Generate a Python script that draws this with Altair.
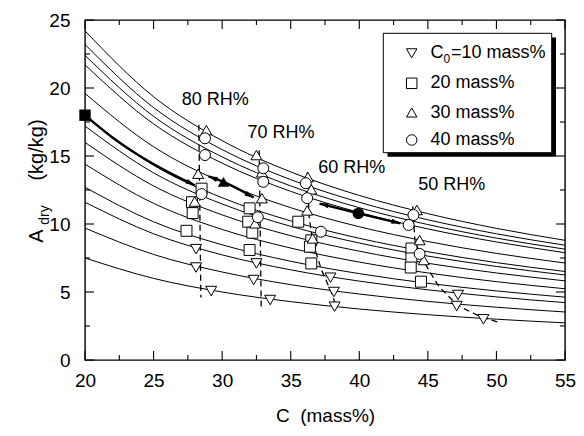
import math
import altair as alt
import pandas as pd

FONT = "Liberation Sans"

# ---------------- data ----------------
x_tick_labels = [20, 25, 30, 35, 40, 45, 50, 55]
y_tick_labels = [0, 5, 10, 15, 20, 25]
x_minor = [22.5, 27.5, 32.5, 37.5, 42.5, 47.5, 52.5]
y_minor = [2.5, 7.5, 12.5, 17.5, 22.5]

# solid curves: A_dry sampled at these C values
curve_C = [20, 25, 30, 35, 40, 45, 50, 55]
curves_A = [
    [24.2, 19.36, 16.13, 13.83, 12.10, 10.76, 9.68, 8.80],
    [23.2, 18.56, 15.47, 13.26, 11.60, 10.31, 9.28, 8.44],
    [22.4, 17.92, 14.93, 12.80, 11.20, 9.96, 8.96, 8.15],
    [21.7, 17.36, 14.47, 12.40, 10.85, 9.64, 8.68, 7.89],
    [19.6, 15.68, 13.07, 11.20, 9.80, 8.71, 7.84, 7.13],
    [17.9, 14.32, 11.93, 10.23, 8.95, 7.96, 7.16, 6.51],
    [17.2, 13.76, 11.47, 9.83, 8.60, 7.64, 6.88, 6.25],
    [16.0, 12.80, 10.67, 9.14, 8.00, 7.11, 6.40, 5.82],
    [14.4, 11.52, 9.60, 8.23, 7.20, 6.40, 5.76, 5.24],
    [12.7, 10.16, 8.47, 7.26, 6.35, 5.64, 5.08, 4.62],
    [11.6, 9.28, 7.73, 6.63, 5.80, 5.16, 4.64, 4.22],
    [9.7, 7.76, 6.47, 5.54, 4.85, 4.31, 3.88, 3.53],
    [7.5, 6.00, 5.00, 4.29, 3.75, 3.33, 3.00, 2.73],
]

# open markers
tri_down_C = [28.1, 28.1, 29.2, 32.5, 32.3, 33.5, 37.9, 38.15, 38.2, 47.2, 47.1, 49.05]
tri_down_A = [8.15, 6.8, 5.07, 7.1, 5.88, 4.41, 6.05, 5.0, 3.92, 4.78, 3.97, 2.99]
square_C = [28.5, 27.8, 27.85, 27.4, 32.0, 31.9, 32.2, 32.0, 35.55, 36.5, 36.4, 36.5, 43.8, 43.8, 43.75, 44.5]
square_A = [12.6, 11.6, 10.8, 9.5, 11.15, 10.17, 9.36, 8.09, 10.17, 8.8, 8.33, 7.1, 8.2, 7.47, 6.8, 5.76]
tri_up_C = [28.85, 28.25, 28.0, 32.5, 32.9, 32.9, 32.4, 36.25, 36.5, 36.2, 36.6, 44.2, 44.4, 44.7]
tri_up_A = [16.9, 13.7, 11.65, 15.07, 13.8, 11.9, 10.05, 13.45, 12.55, 11.0, 8.94, 11.03, 8.82, 7.35]
circle_C = [28.75, 28.75, 28.5, 33.0, 33.0, 32.6, 36.1, 36.2, 37.2, 43.95, 43.6, 44.4]
circle_A = [16.3, 15.07, 12.2, 14.1, 13.1, 10.5, 13.0, 11.9, 9.43, 10.66, 9.93, 7.8]

# dashed RH lines
rh80_C = [28.3, 28.45]
rh80_A = [17.3, 4.6]
rh70_C = [32.7, 32.85]
rh70_A = [15.4, 3.9]
rh60_C = [36.2, 36.35, 36.6, 37.25, 38.0, 38.35]
rh60_A = [13.8, 10.5, 8.7, 6.6, 4.9, 3.8]
rh50_C = [43.9, 44.05, 44.6, 45.8, 47.2, 48.8, 50.1]
rh50_A = [11.3, 8.8, 7.4, 5.4, 4.0, 3.2, 2.8]

rh_labels = ["80 RH%", "70 RH%", "60 RH%", "50 RH%"]
rh_label_C = [29.5, 34.3, 39.45, 46.75]
rh_label_A = [19.1, 16.7, 14.1, 12.85]

# thick drying paths
path1_C = [20, 22, 24, 26, 28.0]
path1_A = [18.0, 16.36, 15.0, 13.85, 12.85]
path2_C = [29.0, 30.1, 32.3]
path2_A = [13.5, 13.1, 11.95]
path3_C = [37.1, 39.93, 43.0]
path3_A = [11.5, 10.78, 10.05]
filled_C = [20.0, 30.1, 39.93]
filled_A = [18.0, 13.1, 10.78]
filled_shape = ["square", "triangle-up", "circle"]

legend_labels = ["20 mass%", "30 mass%", "40 mass%"]

# ---------------- chart ----------------
W, H = 480, 340
PX_X = W / 35.0
PX_Y = H / 25.0

xs = alt.Scale(domain=[20, 55], nice=False, zero=False)
ys = alt.Scale(domain=[0, 25], nice=False, zero=False)
xaxis = alt.Axis(values=x_tick_labels, title="C\u00a0\u00a0(mass%)", labelFontSize=19, titleFontSize=19,
                 titleFontWeight="normal", labelFont=FONT, titleFont=FONT, ticks=False, domain=False,
                 grid=False, labelPadding=11, titlePadding=16, labelColor="black", titleColor="black",
                 format="d", labelFlush=False)
yaxis = alt.Axis(values=y_tick_labels, title="", labelFontSize=19, labelFont=FONT, ticks=False,
                 domain=False, grid=False, labelPadding=15, format="d", labelColor="black")


def X():
    return alt.X("C:Q", scale=xs, axis=xaxis)


def Y():
    return alt.Y("A:Q", scale=ys, axis=yaxis)


rows = []
for i, arr in enumerate(curves_A):
    for c, a in zip(curve_C, arr):
        rows.append({"curve": i, "C": c, "A": a})
curves = alt.Chart(pd.DataFrame(rows)).mark_line(
    color="black", strokeWidth=1.0, interpolate="monotone"
).encode(x=X(), y=Y(), detail="curve:N")

drows = []
for name, cc, aa in [("80", rh80_C, rh80_A), ("70", rh70_C, rh70_A),
                     ("60", rh60_C, rh60_A), ("50", rh50_C, rh50_A)]:
    for k, (c, a) in enumerate(zip(cc, aa)):
        drows.append({"g": name, "k": k, "C": c, "A": a})
dashed = alt.Chart(pd.DataFrame(drows)).mark_line(
    color="black", strokeWidth=1.3, strokeDash=[6, 4]
).encode(x=X(), y=Y(), detail="g:N", order="k:Q")

prow = []
for name, cc, aa in [("p1", path1_C, path1_A), ("p2", path2_C, path2_A), ("p3", path3_C, path3_A)]:
    for k, (c, a) in enumerate(zip(cc, aa)):
        prow.append({"g": name, "k": k, "C": c, "A": a})
paths = alt.Chart(pd.DataFrame(prow)).mark_line(
    color="black", strokeWidth=2.4, interpolate="monotone"
).encode(x=X(), y=Y(), detail="g:N", order="k:Q")

mrows = []
for shp, cc, aa in [("triangle-down", tri_down_C, tri_down_A), ("square", square_C, square_A),
                    ("triangle-up", tri_up_C, tri_up_A), ("circle", circle_C, circle_A)]:
    for c, a in zip(cc, aa):
        mrows.append({"s": shp, "C": c, "A": a})
shape_dom = ["triangle-down", "square", "triangle-up", "circle"]
markers = alt.Chart(pd.DataFrame(mrows)).mark_point(
    filled=True, fill="white", stroke="black", strokeWidth=1.0, opacity=1, size=120
).encode(x=X(), y=Y(),
         shape=alt.Shape("s:N", scale=alt.Scale(domain=shape_dom, range=shape_dom), legend=None))

filled = alt.Chart(pd.DataFrame({"C": filled_C, "A": filled_A, "s": filled_shape})).mark_point(
    filled=True, color="black", opacity=1, size=130
).encode(x=X(), y=Y(),
         shape=alt.Shape("s:N", scale=alt.Scale(domain=filled_shape, range=filled_shape), legend=None))


def ang(c0, a0, c1, a1):
    dx = (c1 - c0) * PX_X
    dy = -(a1 - a0) * PX_Y
    return math.degrees(math.atan2(dx, -dy)) % 360


heads = []
heads.append({"C": path1_C[-1], "A": path1_A[-1], "ang": ang(path1_C[-2], path1_A[-2], path1_C[-1], path1_A[-1])})
for cc, aa in [(path2_C, path2_A), (path3_C, path3_A)]:
    heads.append({"C": cc[0], "A": aa[0], "ang": ang(cc[1], aa[1], cc[0], aa[0])})
    heads.append({"C": cc[2], "A": aa[2], "ang": ang(cc[1], aa[1], cc[2], aa[2])})
arrowheads = alt.Chart(pd.DataFrame(heads)).mark_point(
    shape="M0,0L0.55,1.9L-0.55,1.9Z", filled=True, color="black", opacity=1, size=90
).encode(x=X(), y=Y(), angle=alt.Angle("ang:Q", scale=None))

rh_text = alt.Chart(pd.DataFrame({"C": rh_label_C, "A": rh_label_A, "t": rh_labels})).mark_text(
    font=FONT, fontSize=18, color="black", align="center", baseline="middle"
).encode(x=X(), y=Y(), text="t:N")

# inward ticks on all four sides
MAJ, MIN = 9, 5
tick_layers = []
for vals, ln in [(x_tick_labels, MAJ), (x_minor, MIN)]:
    d = pd.DataFrame({"C": vals})
    tick_layers.append(alt.Chart(d).mark_rule(color="black", strokeWidth=1.1).encode(
        x=X(), y=alt.value(H), y2=alt.value(H - ln)))
    tick_layers.append(alt.Chart(d).mark_rule(color="black", strokeWidth=1.1).encode(
        x=X(), y=alt.value(0), y2=alt.value(ln)))
for vals, ln in [(y_tick_labels, MAJ), (y_minor, MIN)]:
    d = pd.DataFrame({"A": vals})
    tick_layers.append(alt.Chart(d).mark_rule(color="black", strokeWidth=1.1).encode(
        y=Y(), x=alt.value(0), x2=alt.value(ln)))
    tick_layers.append(alt.Chart(d).mark_rule(color="black", strokeWidth=1.1).encode(
        y=Y(), x=alt.value(W), x2=alt.value(W - ln)))

one = pd.DataFrame({"d": [0]})


def txt(s, x, y, size=18, **kw):
    return alt.Chart(one).mark_text(text=s, fontSize=size, font=FONT, color="black", **kw).encode(
        x=alt.value(x), y=alt.value(y))


# legend box with shadow
leg_shadow = alt.Chart(one).mark_rect(color="black").encode(
    x=alt.value(302.5), x2=alt.value(471), y=alt.value(17.5), y2=alt.value(136.8))
leg_box = alt.Chart(one).mark_rect(fill="white", stroke="black", strokeWidth=1).encode(
    x=alt.value(298.3), x2=alt.value(466.7), y=alt.value(13.3), y2=alt.value(132.7))
row_y = [33.3, 63.3, 92.5, 120]
leg_syms = alt.Chart(pd.DataFrame({"s": shape_dom, "yy": row_y})).mark_point(
    filled=True, fill="white", stroke="black", strokeWidth=1.0, opacity=1, size=110
).encode(x=alt.value(326.7), y=alt.Y("yy:Q", scale=None),
         shape=alt.Shape("s:N", scale=alt.Scale(domain=shape_dom, range=shape_dom), legend=None))
leg_texts = [
    txt("C", 345.5, row_y[0], align="left", baseline="middle"),
    txt("0", 358.5, row_y[0] + 6, size=12, align="left", baseline="middle"),
    txt("=10 mass%", 366, row_y[0], align="left", baseline="middle"),
]
for lab, yy in zip(legend_labels, row_y[1:]):
    leg_texts.append(txt(lab, 345.5, yy, align="left", baseline="middle"))

# y axis title with subscript
ytitle = [
    txt("A", -48, 216, size=20, angle=270, align="center", baseline="middle"),
    txt("dry", -40, 195, size=14, angle=270, align="center", baseline="middle"),
    txt("(kg/kg)", -48, 130, size=20, angle=270, align="center", baseline="middle"),
]

chart = alt.layer(
    curves, dashed, paths, markers, filled, arrowheads, rh_text, *tick_layers,
    leg_shadow, leg_box, leg_syms, *leg_texts, *ytitle
).properties(
    width=W, height=H,
    autosize=alt.AutoSizeParams(type="none"),
    padding={"left": 77, "top": 12, "right": 11, "bottom": 68},
).configure_view(stroke="black", strokeWidth=1.4)

chart.save("out.html", embed_options={"renderer": "svg", "actions": False})
